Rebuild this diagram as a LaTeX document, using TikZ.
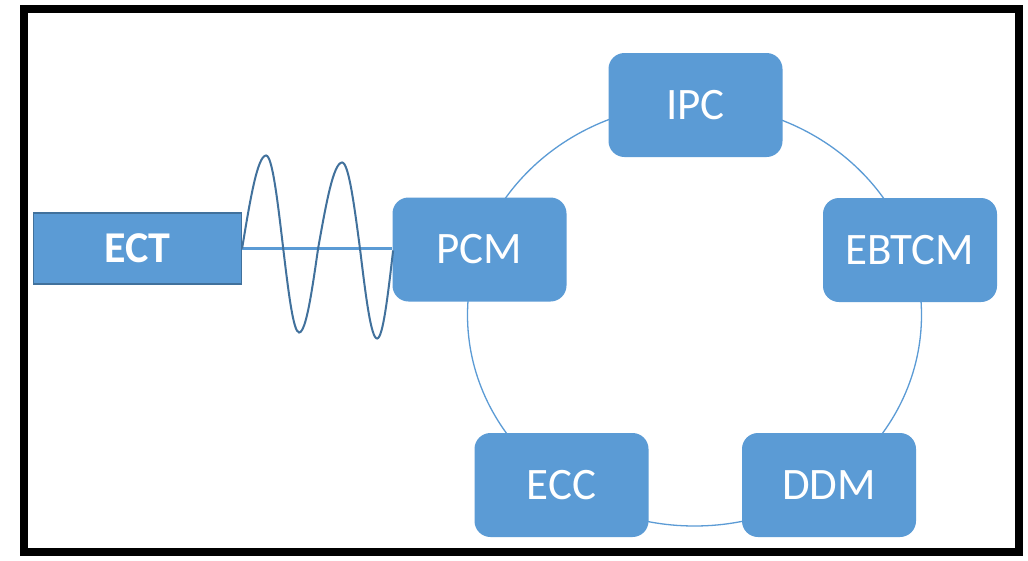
\documentclass[tikz,border=0pt]{standalone}
\usepackage{fontspec}
\setmainfont{Carlito}
\definecolor{boxblue}{HTML}{5B9BD5}
\definecolor{darkblue}{HTML}{41719C}
\begin{document}
\begin{tikzpicture}[x=1pt,y=-1pt,
  mod/.style={fill=boxblue,draw=none,rounded corners=16pt,minimum width=174pt,minimum height=104pt,inner sep=0pt,text=white,font=\fontsize{45}{52}\selectfont},
  ectbox/.style={fill=boxblue,draw=darkblue,line width=1.2pt,minimum width=208pt,minimum height=71pt,inner sep=0pt,text=white,font=\fontsize{44}{50}\selectfont\bfseries},
  ring/.style={draw=boxblue,line width=1.3pt},
  link/.style={draw=boxblue,line width=3pt},
  wave/.style={draw=darkblue,line width=2pt}]
\useasboundingbox (0,0) rectangle (1028,560);
\fill[white] (0,0) rectangle (1028,560);
\draw[line width=8pt] (23.5,8.5) rectangle (1019,551.5);
\draw[ring] (694.5,315) ellipse [x radius=227, y radius=211];
\node[mod] (ipc) at (695.5,105) {IPC};
\node[mod] (pcm) at (479.5,249.5) {PCM};
\node[mod] (ebtcm) at (910,250) {EBTCM};
\node[mod] (ecc) at (561.5,485) {ECC};
\node[mod] (ddm) at (829,485) {DDM};
\node[ectbox] (ect) at (137.5,248.5) {ECT};
\draw[link] (ect.east) -- (ect.east -| pcm.west);
\draw[wave] (ect.east) sin ++(24,-93) cos ++(17,92) sin ++(16,85) cos ++(19,-84)
  sin ++(24,-86) cos ++(18,87) sin ++(17,89) cos ++(16,-88);
\end{tikzpicture}
\end{document}
